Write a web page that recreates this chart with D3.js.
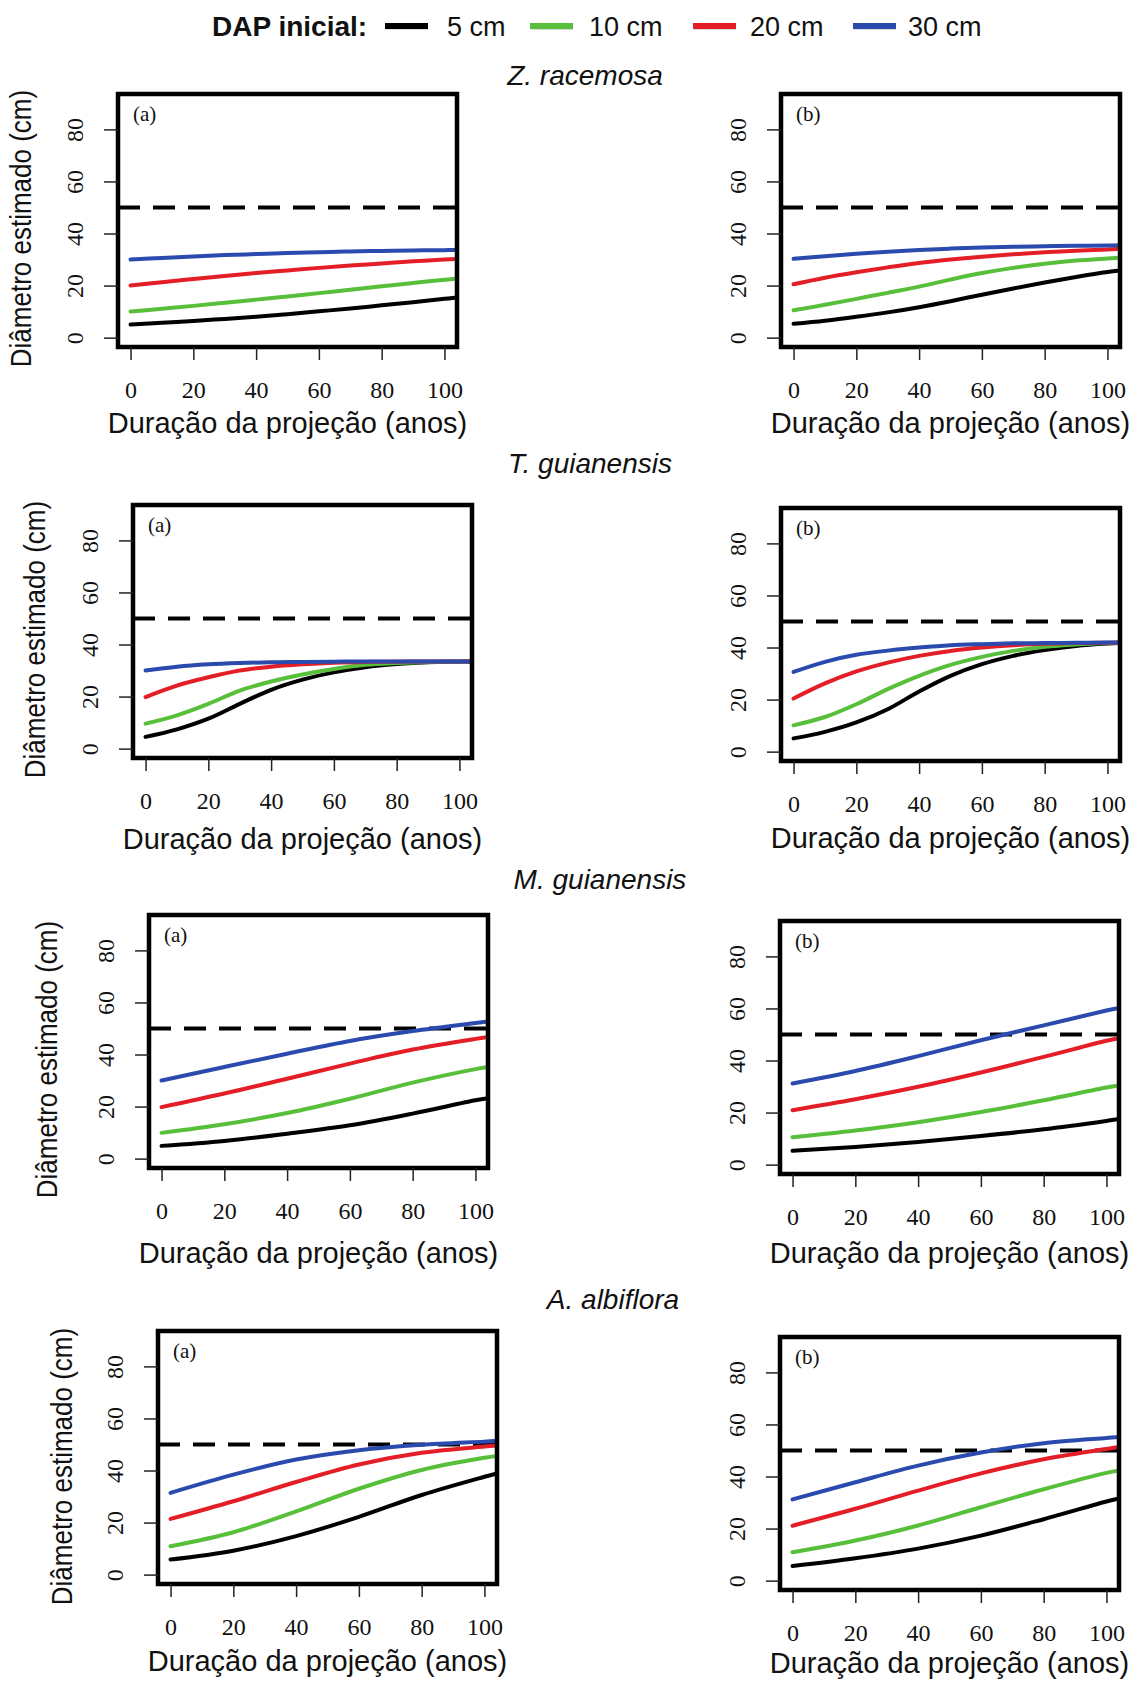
<!DOCTYPE html>
<html>
<head>
<meta charset="utf-8">
<script src="https://cdn.jsdelivr.net/npm/d3@7"></script>
<style>
  html, body { margin: 0; padding: 0; background: #fff; }
  svg { display: block; }
</style>
</head>
<body>
<svg id="chart" width="1136" height="1683"></svg>
<script>
// ---------------- DATA ----------------
const legendTitle = "DAP inicial:";
const seriesLabels = ["5 cm", "10 cm", "20 cm", "30 cm"];
const seriesColors = ["#000000", "#57bf3a", "#e41e26", "#2b4aae"];
const speciesNames = ["Z. racemosa", "T. guianensis", "M. guianensis", "A. albiflora"];
const panelTags = ["(a)", "(b)"];
const xTicks = [0, 20, 40, 60, 80, 100];
const yTicks = [0, 20, 40, 60, 80];
const threshold = 50;
const xTitle = "Duração da projeção (anos)";
const yTitle = "Diâmetro estimado (cm)";

const yearsFine = [0, 10, 20, 30, 40, 50, 60, 70, 80, 90, 100, 104];
const yearsCoarse = [0, 20, 40, 60, 80, 100, 104];

// each: [5 cm, 10 cm, 20 cm, 30 cm]
const zRacemosaA = [
  [5.0, 5.7, 6.4, 7.2, 8.0, 9.0, 10.1, 11.2, 12.4, 13.6, 14.9, 15.4],
  [10.0, 11.1, 12.2, 13.4, 14.6, 15.8, 17.1, 18.4, 19.7, 21.0, 22.2, 22.7],
  [20.0, 21.3, 22.5, 23.7, 24.8, 25.8, 26.8, 27.7, 28.5, 29.3, 30.0, 30.2],
  [30.0, 30.6, 31.2, 31.7, 32.1, 32.5, 32.8, 33.1, 33.3, 33.5, 33.6, 33.7]
];
const zRacemosaB = [
  [5.3, 6.5, 8.0, 9.7, 11.7, 14.0, 16.5, 18.9, 21.2, 23.3, 25.2, 25.8],
  [10.5, 12.6, 14.9, 17.2, 19.6, 22.3, 24.8, 26.8, 28.4, 29.6, 30.4, 30.7],
  [20.5, 23.0, 25.1, 27.0, 28.7, 30.0, 31.1, 32.0, 32.8, 33.4, 33.9, 34.1],
  [30.3, 31.3, 32.2, 33.0, 33.7, 34.2, 34.6, 34.9, 35.1, 35.3, 35.4, 35.5]
];
const tGuianensisA = [
  [4.5, 7.4, 11.5, 17.2, 22.6, 26.5, 29.3, 31.3, 32.5, 33.2, 33.4, 33.5],
  [9.6, 12.8, 17.2, 22.3, 25.8, 28.5, 30.6, 32.2, 32.9, 33.3, 33.4, 33.5],
  [19.8, 24.2, 27.4, 30.0, 31.5, 32.4, 33.0, 33.3, 33.4, 33.5, 33.5, 33.5],
  [30.0, 31.5, 32.4, 32.9, 33.2, 33.3, 33.4, 33.5, 33.5, 33.5, 33.5, 33.5]
];
const tGuianensisB = [
  [5.1, 7.6, 11.2, 16.3, 23.1, 29.1, 33.6, 36.8, 39.0, 40.6, 41.5, 41.7],
  [10.1, 13.3, 18.2, 24.0, 29.1, 33.3, 36.4, 38.7, 40.3, 41.2, 41.7, 41.8],
  [20.4, 26.2, 30.8, 34.2, 36.8, 38.7, 40.0, 40.9, 41.4, 41.7, 41.8, 41.9],
  [30.6, 34.5, 37.2, 38.8, 40.0, 40.9, 41.3, 41.6, 41.7, 41.8, 41.9, 41.9]
];
const mGuianensisA = [
  [4.9, 6.8, 9.6, 12.8, 17.3, 22.4, 23.2],
  [9.9, 13.2, 17.5, 23.0, 29.2, 34.4, 35.2],
  [19.8, 25.0, 30.7, 36.5, 41.9, 46.0, 46.7],
  [30.0, 35.2, 40.3, 45.2, 49.0, 52.1, 52.7]
];
const mGuianensisB = [
  [5.3, 6.8, 8.7, 11.0, 13.6, 16.8, 17.5],
  [10.5, 13.1, 16.3, 20.2, 24.7, 29.6, 30.4],
  [20.9, 25.1, 29.9, 35.4, 41.4, 47.6, 48.6],
  [31.2, 36.0, 41.7, 47.8, 53.5, 59.2, 60.2]
];
const aAlbifloraA = [
  [5.8, 9.2, 14.8, 22.2, 30.6, 37.6, 38.9],
  [10.9, 16.3, 24.3, 33.0, 40.2, 44.9, 45.6],
  [21.4, 28.2, 35.6, 42.3, 46.8, 49.2, 49.6],
  [31.4, 38.4, 44.2, 47.8, 49.9, 51.1, 51.4]
];
const aAlbifloraB = [
  [5.6, 8.6, 12.3, 17.3, 23.6, 30.4, 31.6],
  [10.9, 15.4, 21.2, 28.2, 35.1, 41.4, 42.3],
  [21.1, 27.6, 34.6, 41.2, 46.6, 50.6, 51.3],
  [31.2, 37.8, 44.2, 49.2, 52.8, 54.8, 55.2]
];

// ---------------- LAYOUT ----------------
const PW = 339, PH = 253;
const panels = [
  {data: zRacemosaA,  years: yearsFine,   tag: 0, left: 118, top: 94,   xtDy: 86, yTitle: true, ytDx: -87, ytDy: 8},
  {data: zRacemosaB,  years: yearsFine,   tag: 1, left: 781, top: 94,   xtDy: 86},
  {data: tGuianensisA,years: yearsFine,   tag: 0, left: 133, top: 505,  xtDy: 91, yTitle: true, ytDx: -88, ytDy: 8},
  {data: tGuianensisB,years: yearsFine,   tag: 1, left: 781, top: 508,  xtDy: 87},
  {data: mGuianensisA,years: yearsCoarse, tag: 0, left: 149, top: 915,  xtDy: 95, yTitle: true, ytDx: -92, ytDy: 18},
  {data: mGuianensisB,years: yearsCoarse, tag: 1, left: 780, top: 921,  xtDy: 89},
  {data: aAlbifloraA, years: yearsCoarse, tag: 0, left: 158, top: 1331, xtDy: 87, yTitle: true, ytDx: -86, ytDy: 9},
  {data: aAlbifloraB, years: yearsCoarse, tag: 1, left: 780, top: 1337, xtDy: 83}
];
const speciesPos = [[585, 85], [590, 473], [600, 889], [613, 1309]];

const svg = d3.select("#chart");
const sans = "'Liberation Sans', Arial, Helvetica, sans-serif";
const serif = "'Liberation Serif', 'Times New Roman', Times, serif";

// ---------------- LEGEND ----------------
svg.append("text").attr("x", 212).attr("y", 36)
  .attr("font-family", sans).attr("font-weight", "bold").attr("font-size", 28)
  .attr("fill", "#111").text(legendTitle);
const swatchX = [385, 530, 693, 853];
const labelX = [447, 589, 750, 908];
seriesLabels.forEach((lab, i) => {
  svg.append("line").attr("x1", swatchX[i] + 1).attr("x2", swatchX[i] + 43)
    .attr("y1", 27.5).attr("y2", 27.5).attr("stroke", "#bbb").attr("stroke-width", 5).attr("opacity", 0.5);
  svg.append("line").attr("x1", swatchX[i]).attr("x2", swatchX[i] + 43)
    .attr("y1", 26).attr("y2", 26).attr("stroke", seriesColors[i]).attr("stroke-width", 6);
  svg.append("text").attr("x", labelX[i]).attr("y", 36)
    .attr("font-family", sans).attr("font-size", 27).attr("fill", "#111").text(lab);
});

// ---------------- SPECIES TITLES ----------------
speciesNames.forEach((s, i) => {
  svg.append("text").attr("x", speciesPos[i][0]).attr("y", speciesPos[i][1])
    .attr("text-anchor", "middle").attr("font-family", sans).attr("font-style", "italic")
    .attr("font-size", 28).attr("fill", "#111").text(s);
});

// ---------------- PANELS ----------------
panels.forEach((p, pi) => {
  const g = svg.append("g").attr("transform", `translate(${p.left},${p.top})`);
  const x = d3.scaleLinear().domain([-4, 104]).range([0, PW]);
  const y = d3.scaleLinear().domain([-3.6, 93.6]).range([PH, 0]);

  const clipId = "clip" + pi;
  g.append("clipPath").attr("id", clipId).append("rect")
    .attr("x", 0).attr("y", 0).attr("width", PW).attr("height", PH);

  const plot = g.append("g").attr("clip-path", `url(#${clipId})`);

  // threshold dashed line
  plot.append("line")
    .attr("x1", x(-4)).attr("x2", x(104))
    .attr("y1", y(threshold)).attr("y2", y(threshold))
    .attr("stroke", "#000").attr("stroke-width", 4)
    .attr("stroke-dasharray", "22,13");

  const line = d3.line()
    .x((d, i) => x(p.years[i]))
    .y(d => y(d))
    .curve(d3.curveCatmullRom.alpha(0.5));

  p.data.forEach((ser, si) => {
    plot.append("path").datum(ser)
      .attr("d", line)
      .attr("fill", "none")
      .attr("stroke", seriesColors[si])
      .attr("stroke-width", 4)
      .attr("stroke-linecap", "round");
  });

  // box
  g.append("rect").attr("x", 0).attr("y", 0).attr("width", PW).attr("height", PH)
    .attr("fill", "none").attr("stroke", "#000").attr("stroke-width", 4.5);

  // x axis
  const xa = g.append("g").attr("transform", `translate(0,${PH})`)
    .call(d3.axisBottom(x).tickValues(xTicks).tickSize(13).tickFormat(d3.format("d")));
  xa.select(".domain").remove();
  xa.selectAll(".tick line").attr("stroke", "#222").attr("stroke-width", 1.5);
  xa.selectAll(".tick text")
    .attr("y", 51).attr("dy", 0)
    .attr("font-family", serif).attr("font-size", 24).attr("fill", "#111");

  // y axis
  const ya = g.append("g")
    .call(d3.axisLeft(y).tickValues(yTicks).tickSize(14).tickFormat(d3.format("d")));
  ya.select(".domain").remove();
  ya.selectAll(".tick line").attr("stroke", "#222").attr("stroke-width", 1.5);
  ya.selectAll(".tick text")
    .attr("x", 0).attr("y", 0).attr("dy", 0)
    .attr("transform", "translate(-35,0) rotate(-90)")
    .attr("text-anchor", "middle")
    .attr("font-family", serif).attr("font-size", 24).attr("fill", "#111");

  // tag
  g.append("text").attr("x", 15).attr("y", 27)
    .attr("font-family", serif).attr("font-size", 21).attr("fill", "#111")
    .text(panelTags[p.tag]);

  // x title
  g.append("text").attr("x", PW / 2).attr("y", PH + p.xtDy)
    .attr("text-anchor", "middle").attr("font-family", sans).attr("font-size", 29)
    .attr("fill", "#111").text(xTitle);

  // y title
  if (p.yTitle) {
    g.append("text")
      .attr("transform", `translate(${p.ytDx},${PH / 2 + p.ytDy}) scale(1.1,1) rotate(-90)`)
      .attr("text-anchor", "middle").attr("font-family", sans).attr("font-size", 26)
      .attr("fill", "#111").text(yTitle);
  }
});
</script>
</body>
</html>
